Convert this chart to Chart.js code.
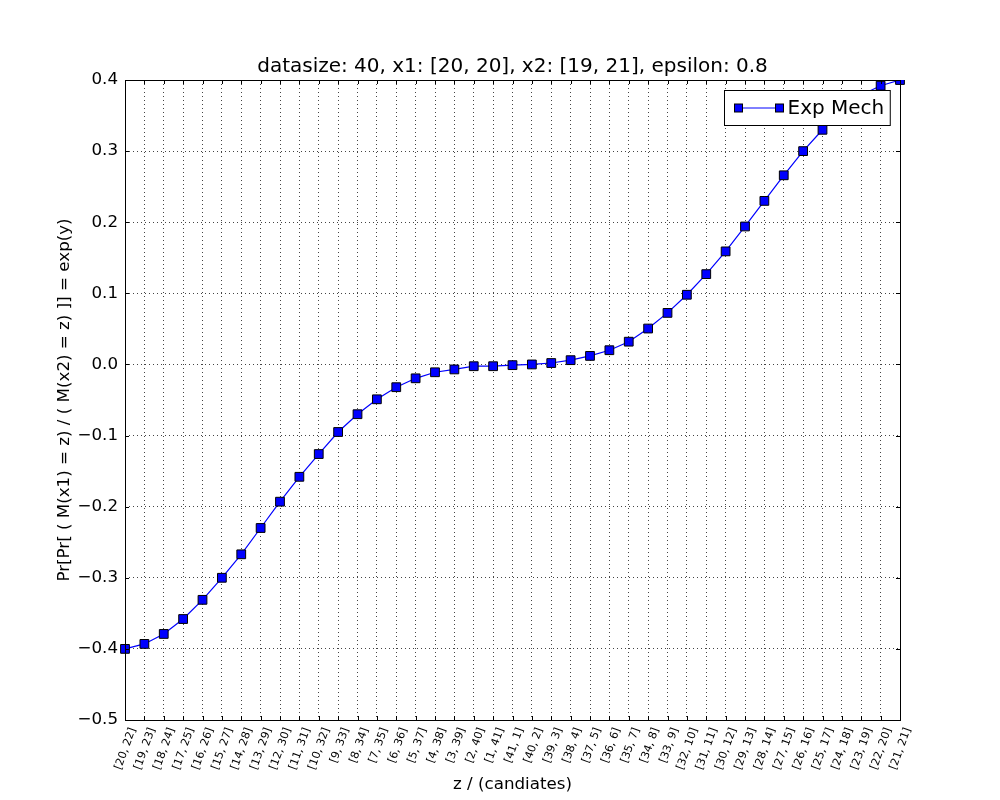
<!DOCTYPE html>
<html>
<head>
<meta charset="utf-8">
<script src="https://cdn.jsdelivr.net/npm/chart.js@4/dist/chart.umd.min.js"></script>
<style>
  html, body { margin: 0; padding: 0; background: #fff; }
  #wrap { width: 1000px; height: 800px; }
</style>
</head>
<body>
<div id="wrap"><canvas id="expChart" width="1000" height="800"></canvas></div>
<script>
const candidates = [
  "[20, 22]", "[19, 23]", "[18, 24]", "[17, 25]", "[16, 26]", "[15, 27]", "[14, 28]",
  "[13, 29]", "[12, 30]", "[11, 31]", "[10, 32]", "[9, 33]", "[8, 34]", "[7, 35]",
  "[6, 36]", "[5, 37]", "[4, 38]", "[3, 39]", "[2, 40]", "[1, 41]", "[41, 1]",
  "[40, 2]", "[39, 3]", "[38, 4]", "[37, 5]", "[36, 6]", "[35, 7]", "[34, 8]",
  "[33, 9]", "[32, 10]", "[31, 11]", "[30, 12]", "[29, 13]", "[28, 14]", "[27, 15]",
  "[26, 16]", "[25, 17]", "[24, 18]", "[23, 19]", "[22, 20]", "[21, 21]",
];

const expMech = [
  -0.400, -0.393, -0.379, -0.358, -0.331, -0.300, -0.267, -0.230, -0.193, -0.158,
  -0.126, -0.095, -0.070, -0.049, -0.032, -0.0195, -0.011, -0.007, -0.0025, -0.0025,
  -0.001, 0.000, 0.002, 0.006, 0.012, 0.020, 0.032, 0.0505, 0.0725, 0.098,
  0.127, 0.159, 0.194, 0.230, 0.266, 0.300, 0.330, 0.358, 0.379, 0.392,
  0.400,
];

const yMin = -0.5;
const yMax = 0.4;
const yStep = 0.1;

const titleText = "datasize: 40, x1: [20, 20], x2: [19, 21], epsilon: 0.8";
const xTitle = "z / (candiates)";
const yTitle = "Pr[Pr[ ( M(x1) = z) / ( M(x2) = z) ]] = exp(y)";
const seriesName = "Exp Mech";

const FONT = "'DejaVu Sans', sans-serif";

function fmtTick(v) {
  const s = Math.abs(v).toFixed(1);
  return v < -1e-9 ? "\u2212" + s : s;
}

// frame, inward ticks and in-plot legend like matplotlib classic
const framePlugin = {
  id: "frame",
  afterDatasetsDraw(chart) {
    const { ctx, chartArea: a, scales } = chart;
    ctx.save();
    ctx.strokeStyle = "#000";
    ctx.lineWidth = 1;

    // tick marks pointing inside, on all four sides
    ctx.beginPath();
    scales.x.ticks.forEach((t, i) => {
      const px = Math.round(scales.x.getPixelForTick(i)) + 0.5;
      ctx.moveTo(px, a.bottom);
      ctx.lineTo(px, a.bottom - 4);
      ctx.moveTo(px, a.top);
      ctx.lineTo(px, a.top + 4);
    });
    scales.y.ticks.forEach((t, i) => {
      const py = Math.round(scales.y.getPixelForTick(i)) + 0.5;
      ctx.moveTo(a.left, py);
      ctx.lineTo(a.left + 4, py);
      ctx.moveTo(a.right, py);
      ctx.lineTo(a.right - 4, py);
    });
    ctx.stroke();

    ctx.strokeRect(Math.round(a.left) + 0.5, Math.round(a.top) + 0.5,
      Math.round(a.right - a.left), Math.round(a.bottom - a.top));

    // legend box
    const ds = chart.data.datasets[0];
    ctx.font = "20px " + FONT;
    const tw = ctx.measureText(ds.label).width;
    const boxW = 63 + tw + 6;
    const boxH = 35;
    const bx = Math.round(a.right - 10 - boxW) + 0.5;
    const by = Math.round(a.top + 10) + 0.5;
    ctx.fillStyle = "#fff";
    ctx.fillRect(bx, by, boxW, boxH);
    ctx.strokeRect(bx, by, boxW, boxH);

    const ly = by + boxH / 2;
    ctx.strokeStyle = ds.borderColor;
    ctx.beginPath();
    ctx.moveTo(bx + 14, ly);
    ctx.lineTo(bx + 55, ly);
    ctx.stroke();
    [bx + 14, bx + 55].forEach((mx) => {
      ctx.fillStyle = ds.pointBackgroundColor;
      ctx.fillRect(mx - 4, ly - 4, 8, 8);
      ctx.strokeStyle = "#000";
      ctx.strokeRect(mx - 4, ly - 4, 8, 8);
    });
    ctx.fillStyle = "#000";
    ctx.textBaseline = "middle";
    ctx.textAlign = "left";
    ctx.fillText(ds.label, bx + 63, ly + 1);
    ctx.restore();
  },
};

const ctx = document.getElementById("expChart").getContext("2d");

new Chart(ctx, {
  type: "line",
  data: {
    labels: candidates,
    datasets: [
      {
        label: seriesName,
        data: expMech,
        xAxisID: "x",
        yAxisID: "y",
        borderColor: "#0000ff",
        borderWidth: 1.2,
        backgroundColor: "#0000ff",
        pointBackgroundColor: "#0000ff",
        pointBorderColor: "#000",
        pointBorderWidth: 1,
        pointStyle: "rect",
        pointRadius: 6.2,
        pointHoverRadius: 6.2,
        fill: false,
        tension: 0,
      },
    ],
  },
  options: {
    responsive: false,
    maintainAspectRatio: false,
    animation: false,
    devicePixelRatio: 1,
    layout: { padding: { left: 0, right: 100, top: 0, bottom: 0 } },
    plugins: {
      legend: { display: false },
      tooltip: { enabled: false },
      title: { display: false },
    },
    scales: {
      // top axis only carries the title so it centres over the plot area
      xTop: {
        type: "category",
        position: "top",
        offset: false,
        afterFit(scale) { scale.height = 80; },
        grid: { display: false, drawTicks: false },
        border: { display: false },
        ticks: { display: false },
        title: {
          display: true,
          text: titleText,
          color: "#000",
          font: { family: FONT, size: 20 },
          padding: { top: 55, bottom: 0 },
        },
      },
      x: {
        type: "category",
        offset: false,
        afterFit(scale) { scale.height = 80; },
        grid: {
          color: "#444",
          lineWidth: 1,
          drawTicks: false,
        },
        border: { display: false, dash: [1, 3] },
        ticks: {
          autoSkip: false,
          minRotation: 70,
          maxRotation: 70,
          padding: 6,
          labelOffset: 8,
          color: "#000",
          font: { family: FONT, size: 11 },
        },
        title: {
          display: true,
          text: xTitle,
          color: "#000",
          font: { family: FONT, size: 16.7 },
          padding: { top: 0, bottom: 5 },
        },
      },
      y: {
        min: yMin,
        max: yMax,
        afterFit(scale) { scale.width = 125; },
        grid: {
          color: "#444",
          lineWidth: 1,
          drawTicks: false,
        },
        border: { display: false, dash: [1, 3] },
        ticks: {
          stepSize: yStep,
          padding: 7,
          color: "#000",
          font: { family: FONT, size: 16.7 },
          callback: (v) => fmtTick(v),
        },
        title: {
          display: true,
          text: yTitle,
          color: "#000",
          font: { family: FONT, size: 16.7 },
          padding: { top: 55, bottom: 0 },
        },
      },
    },
  },
  plugins: [framePlugin],
});
</script>
</body>
</html>
